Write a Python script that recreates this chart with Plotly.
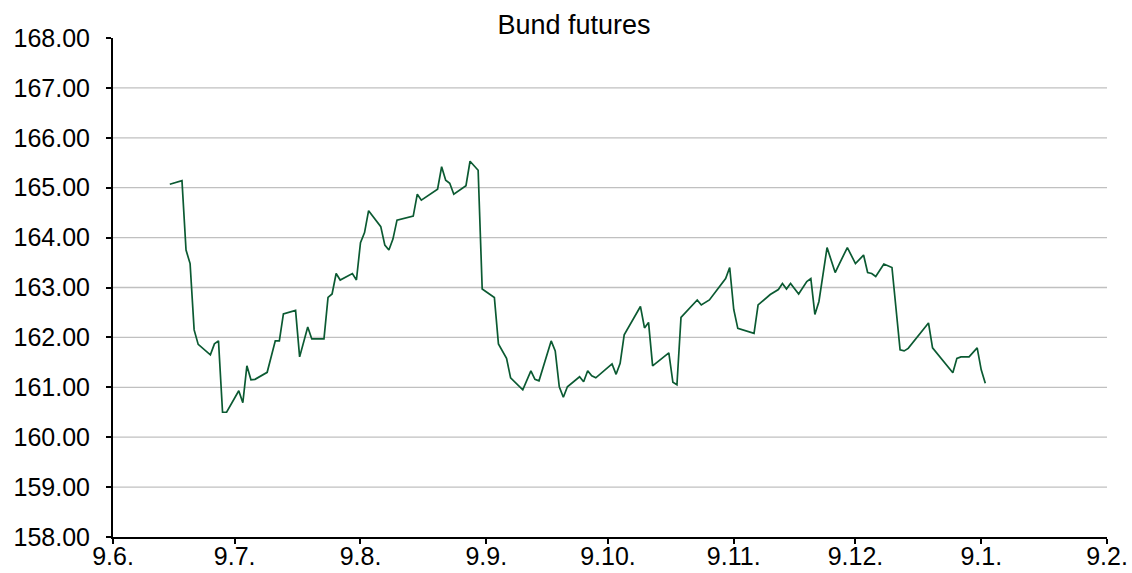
import plotly.graph_objects as go

dates = [
    "2017-06-23", "2017-06-26", "2017-06-27", "2017-06-28", "2017-06-29", "2017-06-30",
    "2017-07-03", "2017-07-04", "2017-07-05", "2017-07-06", "2017-07-07", "2017-07-10",
    "2017-07-11", "2017-07-12", "2017-07-13", "2017-07-14", "2017-07-17", "2017-07-19",
    "2017-07-20", "2017-07-21", "2017-07-24", "2017-07-25", "2017-07-27", "2017-07-28",
    "2017-07-31", "2017-08-01", "2017-08-02", "2017-08-03", "2017-08-04", "2017-08-07",
    "2017-08-08", "2017-08-09", "2017-08-10", "2017-08-11", "2017-08-14", "2017-08-15",
    "2017-08-16", "2017-08-17", "2017-08-18", "2017-08-21", "2017-08-22", "2017-08-23",
    "2017-08-24", "2017-08-28", "2017-08-29", "2017-08-30", "2017-08-31", "2017-09-01",
    "2017-09-04", "2017-09-05", "2017-09-07", "2017-09-08", "2017-09-11", "2017-09-12",
    "2017-09-14", "2017-09-15", "2017-09-18", "2017-09-20", "2017-09-21", "2017-09-22",
    "2017-09-25", "2017-09-26", "2017-09-27", "2017-09-28", "2017-09-29", "2017-10-02",
    "2017-10-03", "2017-10-04", "2017-10-05", "2017-10-06", "2017-10-10", "2017-10-11",
    "2017-10-12", "2017-10-13", "2017-10-17", "2017-10-18", "2017-10-19", "2017-10-20",
    "2017-10-24", "2017-10-25", "2017-10-26", "2017-10-27", "2017-10-31", "2017-11-01",
    "2017-11-03", "2017-11-07", "2017-11-08", "2017-11-09", "2017-11-10", "2017-11-14",
    "2017-11-15", "2017-11-18", "2017-11-20", "2017-11-21", "2017-11-22", "2017-11-23",
    "2017-11-25", "2017-11-27", "2017-11-28", "2017-11-29", "2017-11-30", "2017-12-02",
    "2017-12-04", "2017-12-05", "2017-12-07", "2017-12-09", "2017-12-11", "2017-12-12",
    "2017-12-13", "2017-12-14", "2017-12-16", "2017-12-18", "2017-12-20", "2017-12-21",
    "2017-12-22", "2017-12-27", "2017-12-28", "2018-01-02", "2018-01-03", "2018-01-04",
    "2018-01-06", "2018-01-08", "2018-01-09", "2018-01-10",
]

prices = [
    165.07, 165.14, 163.75, 163.48, 162.15, 161.86,
    161.65, 161.87, 161.93, 160.50, 160.50, 160.93,
    160.69, 161.43, 161.15, 161.16, 161.30, 161.93,
    161.93, 162.47, 162.54, 161.61, 162.21, 161.97,
    161.97, 162.80, 162.87, 163.28, 163.15, 163.28,
    163.15, 163.90, 164.10, 164.54, 164.22, 163.85,
    163.75, 163.97, 164.35, 164.42, 164.43, 164.87,
    164.75, 164.97, 165.42, 165.15, 165.09, 164.87,
    165.04, 165.53, 165.35, 162.97, 162.80, 161.87,
    161.58, 161.19, 160.95, 161.33, 161.16, 161.13,
    161.93, 161.73, 161.01, 160.80, 161.01, 161.21,
    161.11, 161.33, 161.23, 161.19, 161.47, 161.26,
    161.48, 162.05, 162.62, 162.19, 162.30, 161.43,
    161.69, 161.10, 161.05, 162.40, 162.75, 162.65,
    162.75, 163.18, 163.40, 162.56, 162.18, 162.08,
    162.65, 162.86, 162.96, 163.08, 162.97, 163.08,
    162.87, 163.12, 163.18, 162.46, 162.72, 163.80,
    163.30, 163.47, 163.80, 163.48, 163.65, 163.30,
    163.28, 163.22, 163.47, 163.40, 161.75, 161.73,
    161.78, 162.29, 161.79, 161.29, 161.58, 161.61,
    161.61, 161.79, 161.35, 161.08,
]

x_tick_vals = ["2017-06-09", "2017-07-09", "2017-08-09", "2017-09-09", "2017-10-09",
               "2017-11-09", "2017-12-09", "2018-01-09", "2018-02-09"]
x_tick_text = ["9.6.", "9.7.", "9.8.", "9.9.", "9.10.", "9.11.", "9.12.", "9.1.", "9.2."]
y_tick_vals = [158, 159, 160, 161, 162, 163, 164, 165, 166, 167, 168]
grid_vals = [159, 160, 161, 162, 163, 164, 165, 166, 167]

FONT = "Liberation Sans, Arial, sans-serif"

fig = go.Figure()
fig.add_trace(go.Scatter(
    x=dates, y=prices, mode="lines",
    line=dict(color="#0b5a32", width=1.7),
    showlegend=False,
))

for g in grid_vals:
    fig.add_shape(type="line", xref="paper", yref="y", x0=0, x1=1, y0=g, y1=g,
                  line=dict(color="#c0c0c0", width=1.3), layer="below")

fig.update_layout(
    width=1132, height=573,
    margin=dict(l=113, r=25, t=38, b=36, autoexpand=False),
    paper_bgcolor="white", plot_bgcolor="white",
    title=dict(text="Bund futures", x=574 / 1132, xanchor="center", y=1 - 25 / 573, yanchor="middle",
               xref="container", yref="container", automargin=False,
               font=dict(family=FONT, size=27, color="black")),
    font=dict(family=FONT, size=25, color="black"),
    xaxis=dict(
        type="date", range=["2017-06-09", "2018-02-09"],
        tickmode="array", tickvals=x_tick_vals, ticktext=x_tick_text,
        showgrid=False, zeroline=False, automargin=False,
        showline=True, linecolor="black", linewidth=2,
        ticks="outside", ticklen=5, tickwidth=2, tickcolor="black",
        tickfont=dict(family=FONT, size=25, color="black"),
        ticklabelstandoff=-9,
    ),
    yaxis=dict(
        range=[158, 168],
        tickmode="array", tickvals=y_tick_vals,
        tickformat=".2f",
        showgrid=False, zeroline=False, automargin=False,
        showline=True, linecolor="black", linewidth=2,
        ticks="outside", ticklen=5, tickwidth=2, tickcolor="black",
        tickfont=dict(family=FONT, size=25, color="black"),
        ticklabelstandoff=11,
    ),
)

fig.write_html(
    "out.html",
    config={"displayModeBar": False},
    post_script="document.body.style.margin='0';document.body.style.padding='0';",
)
